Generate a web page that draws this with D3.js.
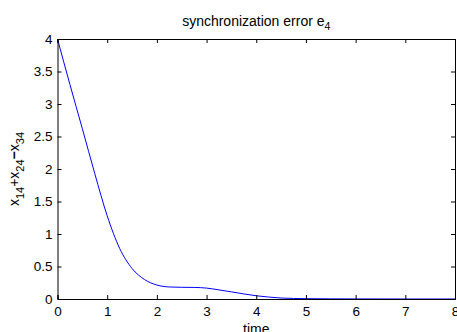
<!DOCTYPE html>
<html>
<head>
<meta charset="utf-8">
<script src="https://cdn.jsdelivr.net/npm/d3@7"></script>
<style>
  body { margin: 0; background: #fff; }
  text { font-family: "Liberation Sans", Arial, sans-serif; fill: #000; }
</style>
</head>
<body>
<div id="chart"></div>
<script>
// time samples and error values
var timeVals = [0, 0.25, 0.5, 0.75, 1, 1.25, 1.5, 1.75, 2, 2.25, 2.5, 2.75, 3, 3.25, 3.5, 3.75, 4, 4.25, 4.5, 5, 5.5, 6, 7, 8];
var errVals  = [4, 3.3, 2.62, 1.93, 1.28, 0.78, 0.47, 0.3, 0.215, 0.185, 0.18, 0.178, 0.168, 0.14, 0.11, 0.078, 0.05, 0.03, 0.015, 0.005, 0.002, 0.001, 0, 0];
var xTicks = [0, 1, 2, 3, 4, 5, 6, 7, 8];
var yTicks = [0, 0.5, 1, 1.5, 2, 2.5, 3, 3.5, 4];

var width = 457, height = 332;
var margin = {top: 39, right: 2, bottom: 33, left: 57.5};
var w = width - margin.left - margin.right;
var h = height - margin.top - margin.bottom;

var svg = d3.select('#chart').append('svg')
    .attr('width', width)
    .attr('height', height);

var g = svg.append('g')
    .attr('transform', 'translate(' + margin.left + ',' + margin.top + ')');

var x = d3.scaleLinear().domain([0, 8]).range([0, w]);
var y = d3.scaleLinear().domain([0, 4]).range([h, 0]);

var line = d3.line()
    .x(function (d, i) { return x(timeVals[i]); })
    .y(function (d) { return y(d); })
    .curve(d3.curveMonotoneX);

g.append('path')
    .datum(errVals)
    .attr('fill', 'none')
    .attr('stroke', '#0000ff')
    .attr('stroke-width', 1)
    .attr('d', line);

// matlab style ticks: inside, on all four sides
var tl = 4;
g.append('g')
    .attr('transform', 'translate(0,' + h + ')')
    .call(d3.axisBottom(x).tickValues(xTicks).tickSize(-tl).tickPadding(7).tickFormat(d3.format('')));
g.append('g')
    .call(d3.axisTop(x).tickValues(xTicks).tickSize(-tl).tickFormat(''));
g.append('g')
    .call(d3.axisLeft(y).tickValues(yTicks).tickSize(-tl).tickPadding(5).tickFormat(d3.format('')));
g.append('g')
    .attr('transform', 'translate(' + w + ',0)')
    .call(d3.axisRight(y).tickValues(yTicks).tickSize(-tl).tickFormat(''));

g.selectAll('.domain').attr('stroke', '#000').attr('stroke-width', 1);
g.selectAll('.tick line').attr('stroke', '#000');
g.selectAll('.tick text').style('font-size', '13.5px').style('font-family', '"Liberation Sans", Arial, sans-serif');

// title
var title = svg.append('text')
    .attr('x', margin.left + w / 2)
    .attr('y', 26)
    .attr('text-anchor', 'middle')
    .style('font-size', '14px');
title.append('tspan').text('synchronization error e');
title.append('tspan').attr('dy', 4).style('font-size', '10.5px').text('4');

// x label
svg.append('text')
    .attr('x', margin.left + w / 2)
    .attr('y', 334)
    .attr('text-anchor', 'middle')
    .style('font-size', '14px')
    .text('time');

// y label
var yl = svg.append('text')
    .attr('transform', 'translate(18.5,' + (margin.top + h / 2) + ')rotate(-90)')
    .attr('text-anchor', 'middle')
    .style('font-size', '14px');
var parts = [['x', false], ['14', true], ['+', false], ['x', false], ['24', true], ['\u2212', false], ['x', false], ['34', true]];
var sub = false;
parts.forEach(function (p) {
    var dy = 0;
    if (p[1] && !sub) dy = 5;
    if (!p[1] && sub) dy = -5;
    sub = p[1];
    var t = yl.append('tspan').attr('dy', dy).text(p[0]);
    if (p[1]) t.style('font-size', '11px');
    if (p[0] === '\u2212') t.style('font-weight', 'bold');
});
</script>
</body>
</html>
